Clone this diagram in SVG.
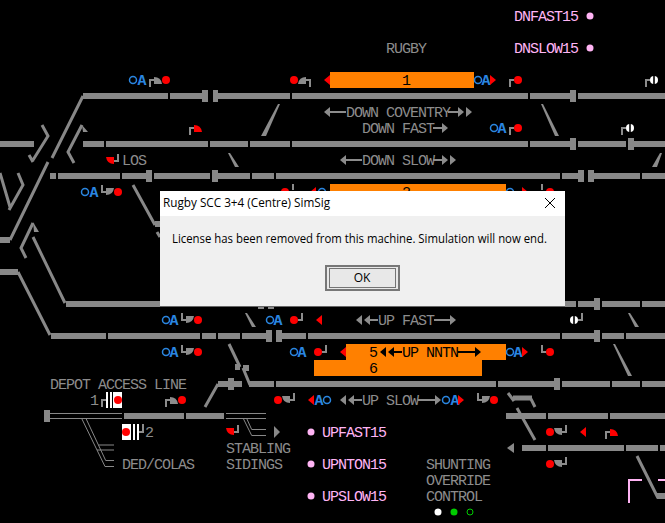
<svg xmlns="http://www.w3.org/2000/svg" xmlns:xlink="http://www.w3.org/1999/xlink" width="665" height="523" viewBox="0 0 665 523">
<style>
.t{font-family:"Liberation Mono",monospace;font-size:15px;letter-spacing:-1px;fill:#8c8c8c}
.k{fill:#000}
.p{fill:#ffb4f4}
.a{font-family:"Liberation Mono",monospace;font-size:15px;font-weight:bold;fill:#2a86e0;text-anchor:middle}
.c{fill:none;stroke:#2a86e0;stroke-width:1.5}
.d{fill:#f00}
.w{fill:#fff}
.r{fill:#f00}
.g{fill:#8c8c8c}
.o{fill:#ff8000}
.trk{fill:none;stroke:#888;stroke-width:6}
.dg{fill:none;stroke:#888;stroke-width:3}
.thin{fill:none;stroke:#888;stroke-width:1}
.al{fill:none;stroke:#8c8c8c;stroke-width:2}
.stem{fill:none;stroke:#8c8c8c;stroke-width:2}
.ui{font-family:"Open Sans","Noto Sans",sans-serif;font-size:12px;fill:#000}
</style>
<defs>
<g id="post"><path class="stem" d="M-16,7V0H-8"/><path d="M-12,-3Q-5,-3-4,4H-12Z"/></g>
<path id="short" class="stem" d="M-8,7V0H-4"/>
<polygon id="tri" points="0,-5 6,0 0,5"/>
<path id="bar" d="M-.8,-4H.8V4H-.8Z" fill="#000"/>
</defs>
<rect width="665" height="523" fill="#000"/>

<g id="connectors">
<path class="trk" d="M83,96H168M170,96H202M218,96H290M292,96H528M530,96H570M578,96H665"/>
<path class="trk" d="M0,144H34M83,144H104M106,144H208M210,144H248M250,144H290M292,144H528M530,144H570M578,144H626M634,144H665"/>
<path class="trk" d="M50,176H56M58,176H120M122,176H146M154,176H210M218,176H250M252,176H274M276,176H560M562,176H578M594,176H640M642,176H665"/>
<path class="trk" d="M155,224H162M0,240H10M0,272H18M66,304H162M258,304H274M565,304H576M578,304H594M602,304H640M642,304H665"/>
<path class="trk" d="M51,336H106M108,336H200M202,336H216M218,336H240M242,336H266M282,336H306M308,336H560M562,336H594M602,336H624M626,336H665"/>
<path class="trk" d="M218,384H228M234,384H242M249,384H274M276,384H496M498,384H554M562,384H610M612,384H640M642,384H665M235,367H240M243,368H249"/>
<path class="trk" d="M124,416H184M186,416H224M506,416H546M548,416H608M610,416H665"/>
<path class="trk" d="M522,448H546M548,448H624M626,448H658M660,448H665M657,496H665"/>
<path fill="#888" d="M202,90h6v12h-6zM213,90h5v12h-5zM570,90h6v12h-6zM570,138h6v12h-6zM628,138h6v12h-6zM146,170h6v12h-6zM212,170h6v12h-6zM578,170h6v12h-6zM588,170h6v12h-6zM594,298h6v12h-6zM258,298h6v11h-6zM268,298h6v11h-6zM266,330h6v12h-6zM276,330h6v12h-6zM594,330h6v12h-6zM228,378h6v12h-6zM554,378h6v12h-6zM44,410h6v12h-6z"/>
<path class="dg" d="M83,96L52,158M48,162L10,240M18,272L50,335M65,303L33,237M42,125L48,136L33,160M29,155L33,162M82,125L68,152L74,163M0,173L10,207M18,173L23,185L9,210M33,223L21,248L26,258M133,185L155,225M157,232L160,237M229,344L240,367M243,368L250,385M205,407L218,384M508,393L514,401M531,399L535,407M517,408L535,440M637,456L658,498"/>
<path fill="none" stroke="#888" stroke-width="5" d="M513,398H532"/>
<polygon class="g" points="278,104 280,104 266,136 261,136"/>
<polygon class="g" points="228,153 230,153 239,167 235,167"/>
<polygon class="g" points="541,104 543,104 559,136 555,136"/>
<polygon class="g" points="660,153 662,153 657,167 652,167"/>
<polygon class="g" points="245,313 247,313 256,327 252,327"/>
<polygon class="g" points="628,313 630,313 639,327 635,327"/>
<polygon class="g" points="613,344 615,344 632,376 628,376"/>
<polygon class="g" points="33,222 39,232 34,232"/>
<polygon class="g" points="82,125 88,132 83,132"/>
<path class="thin" d="M50,413.500H122M50,418.500H122M81.700,418.500L105,466.500H114M86,418.500L105.700,460.500H114M98.500,445H114M97,450H114M226,413.500H266M226,418.500H266M243.300,418.500L251.700,435.500H266M246.700,418.500L251.700,429.500H266"/>
<polygon fill="#888" points="274,426 280,432 274,438"/>
<polygon fill="#888" points="514,443 507,448 514,453"/>
<path fill="none" stroke="#ffb4f4" stroke-width="2" d="M629,503V480H642M658,480H665"/>
</g>

<g id="labels">
<text class="t" x="386" y="53">RUGBY</text>
<text class="t" x="346" y="117">DOWN COVENTRY</text>
<text class="t" x="362" y="133">DOWN FAST</text>
<text class="t" x="362" y="165">DOWN SLOW</text>
<text class="t" x="122" y="165">LOS</text>
<text class="t" x="378" y="325">UP FAST</text>
<text class="t" x="362" y="405">UP SLOW</text>
<text class="t" x="50" y="389">DEPOT ACCESS LINE</text>
<text class="t" x="90" y="405">1</text>
<text class="t" x="145" y="437">2</text>
<text class="t" x="122" y="469">DED/COLAS</text>
<text class="t" x="226" y="453">STABLING</text>
<text class="t" x="226" y="469">SIDINGS</text>
<text class="t" x="426" y="469">SHUNTING</text>
<text class="t" x="426" y="485">OVERRIDE</text>
<text class="t" x="426" y="501">CONTROL</text>
<path class="al" d="M330,112H346M448,112H458M433,128H442M346,160H362M433,160H442M370,320H378M434,320H450M354,400H362M418,400H435"/>
<g class="g">
<use xlink:href="#tri" transform="translate(330,112) scale(-1,1)"/>
<use xlink:href="#tri" transform="translate(458,112)"/>
<use xlink:href="#tri" transform="translate(466,112)"/>
<use xlink:href="#tri" transform="translate(442,128)"/>
<use xlink:href="#tri" transform="translate(346,160) scale(-1,1)"/>
<use xlink:href="#tri" transform="translate(442,160)"/>
<use xlink:href="#tri" transform="translate(450,160)"/>
<use xlink:href="#tri" transform="translate(362,320) scale(-1,1)"/>
<use xlink:href="#tri" transform="translate(370,320) scale(-1,1)"/>
<use xlink:href="#tri" transform="translate(450,320)"/>
<use xlink:href="#tri" transform="translate(346,400) scale(-1,1)"/>
<use xlink:href="#tri" transform="translate(354,400) scale(-1,1)"/>
<use xlink:href="#tri" transform="translate(435,400)"/>
</g>
</g>

<g id="berth-1">
<rect class="o" x="330" y="72" width="144" height="16"/>
<text class="t k" x="402" y="85">1</text>
<use xlink:href="#tri" class="r" transform="translate(330,80) scale(-1,1)"/>
<circle class="c" cx="478" cy="80" r="3.500"/><text class="a" x="486" y="85">A</text>
<use xlink:href="#tri" class="r" transform="translate(490,80)"/>
</g>
<g id="berth-2">
<rect class="o" x="330" y="184" width="176" height="16"/>
<text class="t k" x="402" y="197">2</text>
<use xlink:href="#tri" class="r" transform="translate(316,192) scale(-1,1)"/>
<circle class="c" cx="322" cy="192" r="3.500"/>
<circle class="c" cx="510" cy="192" r="3.500"/>
<use xlink:href="#tri" class="r" transform="translate(522,192)"/>
</g>
<g id="berth-5-6">
<path class="o" d="M346,344H506V360H482V376H314V360H346Z"/>
<text class="t k" x="369" y="357">5</text>
<text class="t k" x="369" y="373">6</text>
<text class="t k" x="402" y="357">UP NNTN</text>
<path fill="none" stroke="#000" stroke-width="2" d="M394,352H402M458,352H475"/>
<g class="k">
<use xlink:href="#tri" transform="translate(386,352) scale(-1,1)"/>
<use xlink:href="#tri" transform="translate(394,352) scale(-1,1)"/>
<use xlink:href="#tri" transform="translate(475,352)"/>
</g>
<use xlink:href="#tri" class="r" transform="translate(346,352) scale(-1,1)"/>
<circle class="c" cx="510" cy="352" r="3.500"/><text class="a" x="518" y="357">A</text>
<use xlink:href="#tri" class="r" transform="translate(522,352)"/>
</g>

<g id="oa-markers">
<circle class="c" cx="133" cy="80" r="3.500"/><text class="a" x="142" y="85">A</text>
<circle class="c" cx="494" cy="128" r="3.500"/><text class="a" x="502" y="133">A</text>
<circle class="c" cx="85" cy="192" r="3.500"/><text class="a" x="94" y="197">A</text>
<circle class="c" cx="166" cy="320" r="3.500"/><text class="a" x="174" y="325">A</text>
<circle class="c" cx="166" cy="352" r="3.500"/><text class="a" x="174" y="357">A</text>
<circle class="c" cx="270" cy="320" r="3.500"/><text class="a" x="278" y="325">A</text>
<circle class="c" cx="294" cy="352" r="3.500"/><text class="a" x="302" y="357">A</text>
<circle class="c" cx="327" cy="400" r="3.500"/><text class="a" x="319" y="405">A</text>
<circle class="c" cx="446" cy="400" r="3.500"/><text class="a" x="455" y="405">A</text>
</g>

<g id="signals">
<g id="s1" class="g"><use xlink:href="#post" transform="translate(166,80)"/><circle class="d" cx="166" cy="80" r="4"/></g>
<g id="s2" class="g"><use xlink:href="#post" transform="translate(294,80) scale(-1,1)"/><circle class="d" cx="294" cy="80" r="4"/></g>
<g id="s3"><use xlink:href="#short" transform="translate(518,80)"/><circle class="d" cx="518" cy="80" r="4"/></g>
<g id="s4"><use xlink:href="#short" transform="translate(654,80)"/><circle class="w" cx="654" cy="80" r="4"/><use xlink:href="#bar" x="654" y="80"/></g>
<g id="s5" class="r"><use xlink:href="#post" transform="translate(206,128)"/></g>
<g id="s6"><use xlink:href="#short" transform="translate(518,128)"/><circle class="d" cx="518" cy="128" r="4"/></g>
<g id="s7"><use xlink:href="#short" transform="translate(630,128)"/><circle class="w" cx="630" cy="128" r="4"/><use xlink:href="#bar" x="630" y="128"/></g>
<g id="s8" class="r"><use xlink:href="#post" transform="translate(102,161) scale(-1,-1)"/></g>
<g id="s9" class="g"><use xlink:href="#post" transform="translate(118,192) scale(1,-1)"/><circle class="d" cx="118" cy="192" r="4"/></g>
<g id="s10"><circle class="d" cx="285" cy="192" r="4"/><path class="stem" d="M293,184V190"/><circle class="d" cx="550" cy="192" r="4"/><path class="stem" d="M542,184V190"/></g>
<g id="s11" class="g"><use xlink:href="#post" transform="translate(198,320) scale(1,-1)"/><circle class="d" cx="198" cy="320" r="4"/></g>
<g id="s12" class="g"><use xlink:href="#post" transform="translate(198,352) scale(1,-1)"/><circle class="d" cx="198" cy="352" r="4"/></g>
<g id="s13"><use xlink:href="#short" transform="translate(294,320) scale(-1,-1)"/><circle class="d" cx="294" cy="320" r="4"/></g>
<use id="s14" xlink:href="#tri" class="r" transform="translate(322,320) scale(-1,1)"/>
<g id="s15"><use xlink:href="#short" transform="translate(318,352) scale(-1,-1)"/><circle class="d" cx="318" cy="352" r="4"/></g>
<g id="s16"><use xlink:href="#short" transform="translate(574,320) scale(-1,-1)"/><circle class="w" cx="574" cy="320" r="4"/><use xlink:href="#bar" x="574" y="320"/></g>
<g id="s17"><use xlink:href="#short" transform="translate(550,352) scale(1,-1)"/><circle class="d" cx="550" cy="352" r="4"/></g>
<g id="s18" class="g"><use xlink:href="#post" transform="translate(182,400)"/><circle class="d" cx="182" cy="400" r="4"/></g>
<g id="s19" class="g"><use xlink:href="#post" transform="translate(278,400) scale(-1,-1)"/><circle class="d" cx="278" cy="400" r="4"/></g>
<use id="s20" xlink:href="#tri" class="r" transform="translate(314,400) scale(-1,1)"/>
<use id="s21" xlink:href="#tri" class="r" transform="translate(458,400)"/>
<g id="s22" class="g"><use xlink:href="#post" transform="translate(494,400) scale(1,-1)"/><circle class="d" cx="494" cy="400" r="4"/></g>
<g id="s23" class="r"><use xlink:href="#post" transform="translate(222,432) scale(-1,-1)"/></g>
<g id="s24" class="g"><use xlink:href="#post" transform="translate(550,432) scale(-1,-1)"/><circle class="d" cx="550" cy="432" r="4"/></g>
<use id="s25" xlink:href="#tri" class="r" transform="translate(586,432) scale(-1,1)"/>
<g id="s26" class="r"><use xlink:href="#post" transform="translate(622,432)"/></g>
<g id="s27" class="g"><use xlink:href="#post" transform="translate(550,464) scale(-1,-1)"/><circle class="d" cx="550" cy="464" r="4"/></g>
<g id="depot-1"><path class="stem" d="M102,407V400H106"/><rect class="w" x="106" y="392" width="2" height="16"/><rect class="w" x="110" y="392" width="2" height="16"/><rect class="w" x="113" y="392" width="9" height="16"/><circle class="d" cx="118" cy="400" r="4"/></g>
<g id="depot-2"><rect class="w" x="122" y="424" width="9" height="16"/><circle class="d" cx="126" cy="432" r="4"/><rect class="w" x="133" y="424" width="2" height="16"/><rect class="w" x="137" y="424" width="2" height="16"/><path class="stem" d="M143,424V432H139"/></g>
</g>

<g id="stacks">
<text class="t p" x="514" y="21">DNFAST15</text><circle class="p" cx="590" cy="16" r="3.500"/>
<text class="t p" x="514" y="53">DNSLOW15</text><circle class="p" cx="590" cy="48" r="3.500"/>
<circle class="p" cx="311" cy="432" r="3.500"/><text class="t p" x="322" y="437">UPFAST15</text>
<circle class="p" cx="311" cy="464" r="3.500"/><text class="t p" x="322" y="469">UPNTON15</text>
<circle class="p" cx="311" cy="496" r="3.500"/><text class="t p" x="322" y="501">UPSLOW15</text>
</g>

<g id="override-lamps">
<circle class="w" cx="438" cy="512" r="3.500"/>
<circle cx="454" cy="512" r="3.500" fill="#0c0"/>
<circle cx="470" cy="512" r="3" fill="none" stroke="#0c0"/>
</g>

<g id="dialog">
<rect x="160" y="191" width="405" height="115" fill="#f0f0f0"/>
<rect x="160" y="191" width="405" height="25" fill="#fff"/>
<path d="M160,306.500H565" stroke="#666"/>
<text class="ui" x="163" y="207" textLength="167" lengthAdjust="spacingAndGlyphs">Rugby SCC 3+4 (Centre) SimSig</text>
<path d="M545,198L555,208M555,198L545,208" stroke="#000" fill="none"/>
<text class="ui" x="172" y="243" textLength="375" lengthAdjust="spacingAndGlyphs">License has been removed from this machine. Simulation will now end.</text>
<rect x="326" y="266" width="73" height="24" fill="#e8e8e8" stroke="#777" stroke-width="2"/>
<rect x="329.500" y="268.500" width="66" height="19" fill="none" stroke="#000" stroke-dasharray="1 1"/>
<text class="ui" x="362" y="282" text-anchor="middle">OK</text>
</g>
</svg>
